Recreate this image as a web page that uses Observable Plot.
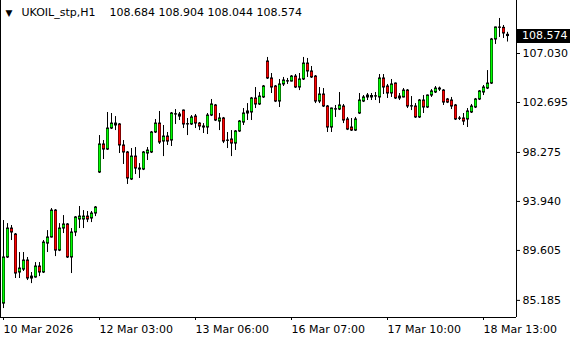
<!DOCTYPE html>
<html><head><meta charset="utf-8">
<script src="https://cdn.jsdelivr.net/npm/d3@7"></script>
<script src="https://cdn.jsdelivr.net/npm/@observablehq/plot@0.6"></script>
<style>html,body{margin:0;padding:0;background:#fff;} #chart{width:580px;height:340px;overflow:hidden}</style>
</head><body><div id="chart"></div>
<script>
const symbol = "UKOIL_stp,H1";
const open = [
84.90, 88.98, 91.54, 91.01, 87.65, 87.91, 88.71, 87.12, 87.21, 88.18,
87.65, 90.21, 90.75, 93.13, 89.59, 91.54, 91.90, 88.98, 91.19, 92.34,
92.34, 92.60, 92.43, 92.87, 96.50, 98.98, 98.53, 100.39, 100.66, 100.75,
98.89, 98.27, 95.88, 97.91, 96.76, 96.76, 98.18, 98.27, 100.04, 100.83,
99.24, 99.68, 99.33, 101.63, 101.45, 101.98, 100.75, 100.75, 101.45, 100.83,
100.48, 100.48, 101.54, 102.43, 101.01, 101.28, 99.33, 99.42, 99.06, 100.13,
100.92, 101.72, 101.81, 103.05, 102.52, 103.14, 106.32, 104.82, 104.11, 102.78,
104.29, 104.55, 104.55, 104.99, 104.02, 104.73, 106.14, 105.44, 104.99, 102.78,
103.40, 102.34, 100.48, 102.07, 102.07, 102.34, 101.19, 100.48, 100.21, 101.72,
102.78, 103.14, 103.14, 103.22, 103.14, 104.82, 104.11, 103.49, 104.37, 103.05,
103.14, 103.75, 102.34, 102.34, 101.37, 102.87, 102.25, 103.31, 103.58, 103.84,
103.75, 102.96, 102.87, 102.43, 101.28, 101.28, 101.19, 101.81, 102.25, 102.96,
103.58, 103.93, 104.37, 108.27, 109.33, 109.30, 108.684
];
const high = [
92.25, 91.98, 91.81, 91.10, 89.42, 89.42, 88.98, 87.65, 88.53, 88.53,
90.48, 91.36, 93.31, 93.22, 91.98, 92.69, 91.98, 91.54, 92.60, 93.49,
93.13, 93.05, 93.05, 93.49, 99.77, 99.33, 101.81, 101.72, 101.45, 100.83,
99.33, 98.36, 98.62, 98.71, 97.29, 98.36, 98.71, 100.13, 101.19, 101.90,
100.66, 100.04, 101.81, 102.07, 101.81, 102.03, 101.28, 101.54, 101.63, 100.92,
100.83, 101.72, 102.96, 102.52, 101.72, 101.37, 100.04, 100.21, 100.21, 101.10,
102.16, 102.60, 103.14, 104.02, 103.58, 104.20, 106.68, 105.26, 104.20, 104.73,
104.91, 104.82, 105.08, 105.17, 105.26, 106.68, 106.59, 105.88, 105.08, 104.02,
103.93, 102.43, 102.20, 102.43, 103.58, 102.52, 101.37, 101.28, 101.37, 103.49,
103.31, 103.49, 103.49, 103.58, 105.17, 105.17, 104.29, 104.73, 104.42, 103.49,
103.93, 103.84, 103.22, 102.60, 102.96, 103.31, 103.36, 103.84, 104.11, 104.06,
103.84, 103.05, 103.14, 102.52, 101.45, 101.72, 102.16, 102.52, 103.05, 103.75,
104.20, 105.52, 108.36, 109.37, 110.13, 109.51, 108.904
];
const low = [
84.46, 88.89, 90.48, 87.12, 87.12, 87.74, 86.94, 86.67, 87.15, 87.29,
87.56, 89.42, 90.70, 89.06, 89.50, 91.10, 88.89, 87.56, 90.83, 91.54,
91.54, 92.07, 92.07, 92.60, 96.41, 97.65, 98.45, 100.30, 100.21, 98.18,
97.21, 95.44, 95.79, 96.32, 95.97, 96.67, 97.56, 98.18, 99.95, 98.98,
97.91, 98.89, 98.80, 100.75, 101.10, 100.39, 99.77, 100.66, 100.39, 100.21,
99.95, 99.86, 101.45, 101.01, 100.21, 99.06, 98.62, 97.91, 98.45, 100.04,
100.66, 101.10, 101.10, 102.16, 102.43, 103.05, 104.73, 103.49, 102.69, 102.25,
104.11, 104.29, 104.51, 103.93, 103.75, 104.64, 104.91, 104.82, 102.60, 102.60,
102.25, 100.04, 100.04, 101.37, 101.98, 100.83, 100.21, 100.13, 100.13, 101.63,
102.69, 102.87, 102.87, 102.87, 102.60, 103.40, 103.05, 103.14, 102.96, 102.87,
103.10, 102.16, 101.98, 101.28, 101.28, 101.72, 102.16, 103.14, 103.49, 103.67,
102.43, 102.60, 102.07, 101.10, 101.10, 100.66, 100.48, 101.72, 102.16, 102.87,
103.31, 103.84, 104.29, 107.83, 108.45, 108.36, 108.044
];
const close = [
88.98, 91.54, 91.19, 87.56, 88.00, 88.71, 87.12, 87.29, 88.18, 87.65,
90.30, 90.75, 93.13, 89.59, 91.54, 91.90, 88.98, 91.19, 92.52, 92.60,
92.60, 92.34, 92.87, 93.40, 98.98, 98.53, 100.39, 100.83, 100.83, 98.89,
98.27, 95.97, 97.91, 96.85, 96.85, 98.27, 98.44, 100.04, 100.83, 99.15,
99.68, 99.24, 101.72, 101.66, 101.63, 100.75, 100.78, 101.37, 100.83, 100.57,
100.57, 101.54, 102.52, 101.10, 101.28, 99.24, 99.30, 99.06, 100.13, 101.01,
101.72, 101.90, 103.05, 102.52, 103.22, 104.11, 104.82, 104.02, 102.78, 104.29,
104.64, 104.58, 104.99, 104.02, 104.73, 106.14, 105.44, 104.91, 102.78, 103.40,
102.34, 100.48, 102.16, 102.10, 102.43, 101.10, 100.30, 100.21, 101.19, 102.87,
103.14, 103.31, 103.27, 103.25, 104.82, 104.02, 103.49, 104.29, 103.05, 103.22,
103.75, 102.34, 102.37, 101.37, 102.87, 102.25, 103.31, 103.67, 103.93, 103.93,
102.69, 102.69, 102.34, 101.19, 101.25, 101.01, 101.90, 102.34, 102.96, 103.67,
104.02, 104.37, 108.27, 109.33, 109.30, 108.80, 108.574
];
const xTickIndex = [0, 24, 48, 72, 96, 120];
const xTickLabels = ["10 Mar 2026", "12 Mar 03:00", "13 Mar 06:00", "16 Mar 07:00", "17 Mar 10:00", "18 Mar 13:00"];
const yTicks = [107.030, 102.695, 98.275, 93.940, 89.605, 85.185];

const bull = "#00ff00", bear = "#ff0000";
const bars = open.map((o, i) => ({
  i, o, h: high[i], l: low[i], c: close[i],
  top: Math.max(o, close[i]), bot: Math.min(o, close[i]), up: close[i] >= o
}));
const last = bars[bars.length - 1];
const xDomain = [-0.75, 128.25];
const yDomain = [83.67, 111.72];
const ohlcText = [last.o, last.h, last.l, last.c].map(v => v.toFixed(3)).join(" ");

const chart = Plot.plot({
  width: 580, height: 340,
  marginLeft: 0, marginRight: 64, marginTop: 0, marginBottom: 23,
  style: {fontFamily: "DejaVu Sans", fontSize: "11px", background: "#fff", color: "#000", overflow: "visible"},
  x: {type: "linear", domain: xDomain, axis: null},
  y: {type: "linear", domain: yDomain, axis: null},
  marks: [
    Plot.ruleX(bars, {x: "i", y1: "l", y2: "h", stroke: "#000", strokeWidth: 1}),
    Plot.ruleX(bars, {x: "i", y1: "top", y2: "bot", stroke: "#000", strokeWidth: 3, insetTop: -0.5, insetBottom: -0.5}),
    Plot.ruleX(bars, {filter: d => d.up && d.top - d.bot > 0.2, x: "i", y1: "top", y2: "bot", stroke: bull, strokeWidth: 2, insetTop: 0.8, insetBottom: 0.8}),
    Plot.ruleX(bars, {filter: d => !d.up && d.top - d.bot > 0.2, x: "i", y1: "top", y2: "bot", stroke: bear, strokeWidth: 2, insetTop: 0.8, insetBottom: 0.8}),
    Plot.ruleX(xDomain, {stroke: "#000"}),
    Plot.ruleY([yDomain[0]], {stroke: "#000"}),
    Plot.axisX(xTickIndex, {anchor: "bottom", tickSize: 3, tickPadding: 5, textAnchor: "start",
      tickFormat: d => xTickLabels[xTickIndex.indexOf(d)], label: null}),
    Plot.axisY(yTicks, {anchor: "right", tickSize: 3, tickPadding: 3, tickFormat: d => d.toFixed(3), label: null}),
    Plot.text(["▼"], {text: d => d, frameAnchor: "top-left", dx: 5, dy: 9, fontSize: 9, lineAnchor: "top", textAnchor: "start"}),
    Plot.text([symbol], {text: d => d, frameAnchor: "top-left", dx: 21, dy: 8, lineAnchor: "top", textAnchor: "start"}),
    Plot.text([ohlcText], {text: d => d, frameAnchor: "top-left", dx: 109, dy: 8, lineAnchor: "top", textAnchor: "start"})
  ]
});

const ys = chart.scale("y").apply(last.c);
const svg = d3.select(chart);
svg.append("rect").attr("x", 517).attr("y", Math.round(ys) - 7).attr("width", 53).attr("height", 14).attr("fill", "#000");
svg.append("text").attr("x", 522).attr("y", ys).attr("dy", "0.35em").attr("fill", "#fff")
  .attr("text-anchor", "start").attr("font-size", 11).attr("font-family", "DejaVu Sans").text(last.c.toFixed(3));
document.getElementById("chart").appendChild(chart);
</script>
</body></html>
